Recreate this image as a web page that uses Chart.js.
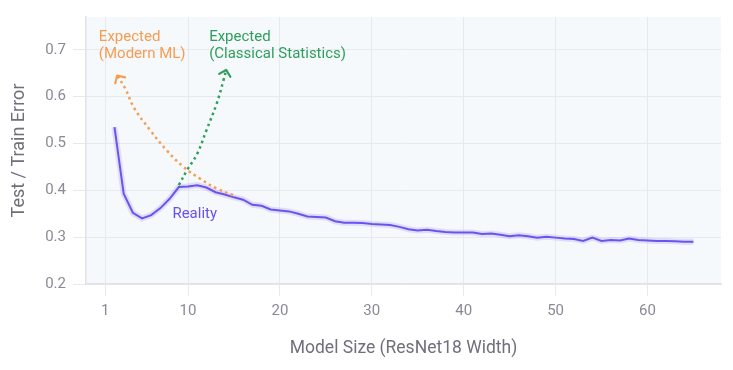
<!DOCTYPE html>
<html>
<head>
<meta charset="utf-8">
<script src="https://cdn.jsdelivr.net/npm/chart.js@4.4.1/dist/chart.umd.min.js"></script>
<style>
html,body{margin:0;padding:0;background:#fff;}
#wrap{width:733px;height:370px;position:relative;}
</style>
</head>
<body>
<div id="wrap"><canvas id="c"></canvas></div>
<script>
// Reality: ResNet18 width vs test error
const widths = [2,3,4,5,6,7,8,9,10,11,12,13,14,15,16,17,18,19,20,21,22,23,24,25,26,27,28,29,30,31,32,33,34,35,36,37,38,39,40,41,42,43,44,45,46,47,48,49,50,51,52,53,54,55,56,57,58,59,60,61,62,63,64,65];
const reality = [0.535,0.393,0.352,0.340,0.347,0.362,0.382,0.407,0.408,0.411,0.406,0.396,0.391,0.385,0.380,0.369,0.367,0.359,0.357,0.355,0.350,0.344,0.343,0.342,0.334,0.331,0.331,0.330,0.328,0.327,0.326,0.322,0.317,0.314,0.316,0.313,0.311,0.310,0.310,0.310,0.307,0.308,0.305,0.302,0.304,0.302,0.299,0.301,0.299,0.297,0.296,0.292,0.299,0.292,0.294,0.293,0.297,0.294,0.293,0.292,0.292,0.291,0.290,0.290];
// Expected (Modern ML) curve, drawn from the line upward to the arrow tip
const modernX = [14.9,13.1,11.3,9.5,7.7,5.9,4.1,3.2,2.3];
const modernY = [0.390,0.404,0.425,0.450,0.485,0.528,0.577,0.616,0.645];
// Expected (Classical Statistics) curve
const classicX = [9.0,9.9,11.0,12.0,13.1,13.85,14.15];
const classicY = [0.411,0.443,0.478,0.528,0.584,0.634,0.657];
const xTicks = [1,10,20,30,40,50,60];
const yTicks = [0.2,0.3,0.4,0.5,0.6,0.7];

const pts = (xs, ys) => xs.map((x,i)=>({x:x,y:ys[i]}));

const PURPLE = '#6a50ee';
const ORANGE = '#f59d52';
const GREEN = '#2f9e5c';
const GRID = '#e6e9ef';
const TEXT = '#8a8a96';

const bgPlugin = {
  id:'bg',
  beforeDraw(chart){
    const {ctx, chartArea:a} = chart;
    ctx.save();
    ctx.fillStyle = '#f5f9fb';
    ctx.fillRect(a.left, a.top, a.right-a.left, a.bottom-a.top);
    ctx.restore();
  }
};

const arrowPlugin = {
  id:'arrows',
  afterDatasetsDraw(chart){
    const ctx = chart.ctx;
    chart.data.datasets.forEach((ds, di) => {
      if (!ds.arrow) return;
      const meta = chart.getDatasetMeta(di);
      const n = meta.data.length;
      const p1 = meta.data[n-1], p0 = meta.data[n-2];
      const ang = Math.atan2(p1.y - p0.y, p1.x - p0.x);
      const L = 8, spread = 0.8;
      ctx.save();
      ctx.strokeStyle = ds.borderColor;
      ctx.lineWidth = 2.2;
      ctx.lineCap = 'round';
      ctx.lineJoin = 'round';
      ctx.beginPath();
      ctx.moveTo(p1.x - L*Math.cos(ang - spread), p1.y - L*Math.sin(ang - spread));
      ctx.lineTo(p1.x, p1.y);
      ctx.lineTo(p1.x - L*Math.cos(ang + spread), p1.y - L*Math.sin(ang + spread));
      ctx.stroke();
      ctx.restore();
    });
  }
};

const labelPlugin = {
  id:'labels',
  afterDraw(chart){
    const ctx = chart.ctx;
    const xs = chart.scales.x, ys = chart.scales.y;
    ctx.save();
    ctx.font = '15px Roboto';
    ctx.textBaseline = 'middle';
    ctx.textAlign = 'left';
    ctx.fillStyle = ORANGE;
    ctx.fillText('Expected', xs.getPixelForValue(0.3), ys.getPixelForValue(0.727));
    ctx.fillText('(Modern ML)', xs.getPixelForValue(0.3), ys.getPixelForValue(0.691));
    ctx.fillStyle = GREEN;
    ctx.fillText('Expected', xs.getPixelForValue(12.3), ys.getPixelForValue(0.727));
    ctx.fillText('(Classical Statistics)', xs.getPixelForValue(12.3), ys.getPixelForValue(0.691));
    ctx.fillStyle = PURPLE;
    ctx.fillText('Reality', xs.getPixelForValue(8.3), ys.getPixelForValue(0.348));
    ctx.restore();
  }
};

new Chart(document.getElementById('c'), {
  type:'line',
  data:{
    datasets:[
      {data: pts(modernX, modernY), borderColor: ORANGE, borderWidth: 2.5, borderDash:[2.5,3.5], pointRadius:0, fill:false, tension:0.4, arrow:true},
      {data: pts(classicX, classicY), borderColor: GREEN, borderWidth: 2.5, borderDash:[2.5,3.5], pointRadius:0, fill:false, tension:0.4, arrow:true},
      {data: pts(widths, reality), borderColor: 'rgba(120,100,240,0.18)', borderWidth: 6, pointRadius:0, fill:false, tension:0},
      {data: pts(widths, reality), borderColor: PURPLE, borderWidth: 2, pointRadius:0, fill:false, tension:0}
    ]
  },
  options:{
    responsive:true,
    maintainAspectRatio:false,
    animation:false,
    events:[],
    layout:{padding:{top:17,right:12,left:0,bottom:0}},
    plugins:{legend:{display:false}, tooltip:{enabled:false}},
    scales:{
      x:{
        type:'linear', min:-1.1, max:68,
        afterBuildTicks(s){ s.ticks = xTicks.map(v=>({value:v})); },
        afterFit(s){ s.height = 86; },
        grid:{color:GRID, lineWidth:1, tickLength:12, drawTicks:true},
        border:{color:'#dfe2e8', width:1.5},
        ticks:{color:TEXT, font:{family:'Roboto', size:15}, padding:6, maxRotation:0},
        title:{display:true, text:'Model Size (ResNet18 Width)', color:'#70707c', font:{family:'Roboto', size:17.5}, padding:{top:0,bottom:11}}
      },
      y:{
        type:'linear', min:0.2, max:0.77,
        afterBuildTicks(s){ s.ticks = yTicks.map(v=>({value:v})); },
        afterFit(s){ s.width = 86; },
        grid:{color:GRID, lineWidth:1, tickLength:13, drawTicks:true},
        border:{color:'#dfe2e8', width:1.5},
        ticks:{color:TEXT, font:{family:'Roboto', size:15}, padding:7, callback:v=>v.toFixed(1)},
        title:{display:true, text:'Test / Train Error', color:'#70707c', font:{family:'Roboto', size:18}, padding:{top:9,bottom:0}}
      }
    }
  },
  plugins:[bgPlugin, arrowPlugin, labelPlugin]
});
</script>
</body>
</html>
